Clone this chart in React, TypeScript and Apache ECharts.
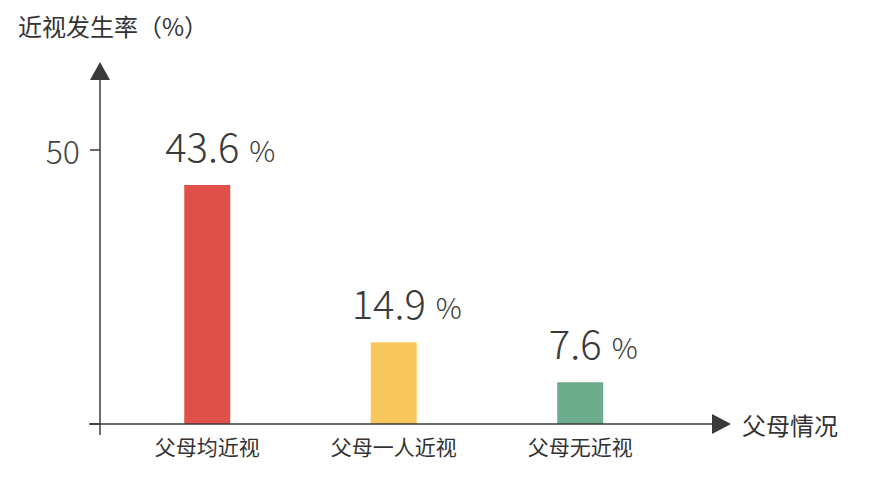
import React, { useEffect, useRef } from "react";
import * as echarts from "echarts";

const categories = ["父母均近视", "父母一人近视", "父母无近视"];
const values = [43.6, 14.9, 7.6];
const barColors = ["#E0504A", "#F8C85E", "#6DAB8D"];
const yTicks = [0, 50];
const yTitle = "近视发生率（%）";
const xTitle = "父母情况";

const FONT = '"Noto Sans CJK SC", "Noto Sans", sans-serif';
const AXIS = "#3a3a3a";

export default function App() {
  const ref = useRef<HTMLDivElement>(null);
  useEffect(() => {
    if (!ref.current) return;
    const chart = echarts.init(ref.current, null, { renderer: "svg" });
    chart.setOption({
      animation: false,
      backgroundColor: "#ffffff",
      textStyle: { fontFamily: FONT },
      title: {
        text: yTitle,
        left: 13,
        top: 8,
        textStyle: { fontSize: 24, fontWeight: "normal", color: "#333", fontFamily: FONT },
      },
      grid: { left: 114, right: 198.5, top: 150, bottom: 58 },
      xAxis: {
        type: "category",
        data: categories,
        axisLine: { show: false },
        axisTick: { show: false },
        axisLabel: { fontSize: 21, color: "#333", margin: 11, fontFamily: FONT },
      },
      yAxis: {
        type: "value",
        min: yTicks[0],
        max: yTicks[yTicks.length - 1],
        interval: yTicks[1] - yTicks[0],
        offset: 14,
        splitLine: { show: false },
        axisLine: { show: false },
        axisTick: { show: true, length: 10, lineStyle: { color: AXIS, width: 1.5 } },
        axisLabel: {
          fontSize: 32,
          color: "#444",
          margin: 20,
          fontFamily: FONT,
          fontWeight: 300,
          formatter: (v: number) => (v === 0 ? "" : String(v)),
        },
      },
      series: [
        {
          type: "bar",
          barWidth: 46,
          data: values.map((v, i) => ({ value: v, itemStyle: { color: barColors[i] } })),
          label: {
            show: true,
            position: "top",
            distance: 20,
            offset: [13, 0],
            formatter: (p: any) => `{a|${p.value}}{b|%}`,
            rich: {
              a: { fontSize: 40, color: "#3a3a3a", fontFamily: FONT, fontWeight: 300 },
              b: { fontSize: 29, color: "#3a3a3a", fontFamily: FONT, fontWeight: 300, padding: [7, 0, 0, 10] },
            },
          },
        },
      ],
      graphic: [
        { type: "line", shape: { x1: 100, y1: 76, x2: 100, y2: 435 }, style: { stroke: AXIS, lineWidth: 1.5 }, z: 10 },
        { type: "polygon", shape: { points: [[100, 62], [90, 80], [110, 80]] }, style: { fill: AXIS }, z: 10 },
        { type: "line", shape: { x1: 89, y1: 424, x2: 715, y2: 424 }, style: { stroke: AXIS, lineWidth: 1.5 }, z: 10 },
        { type: "polygon", shape: { points: [[731, 424], [712, 414], [712, 434]] }, style: { fill: AXIS }, z: 10 },
        {
          type: "text",
          x: 742,
          y: 424,
          style: { text: xTitle, fontSize: 24, fill: "#333", fontFamily: FONT, verticalAlign: "middle" },
          z: 10,
        },
      ],
    });
    return () => chart.dispose();
  }, []);
  return (
    <div
      ref={ref}
      style={{ position: "absolute", left: 0, top: 0, width: 872, height: 482 }}
    />
  );
}
